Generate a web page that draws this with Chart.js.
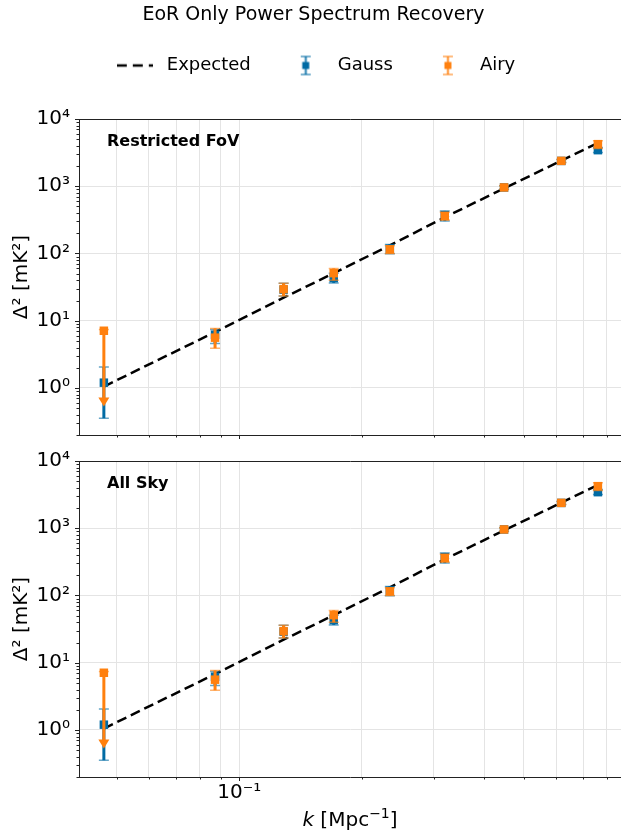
<!DOCTYPE html>
<html>
<head>
<meta charset="utf-8">
<title>EoR Only Power Spectrum Recovery</title>
<script src="https://cdn.jsdelivr.net/npm/chart.js@4.4.1/dist/chart.umd.min.js"></script>
<style>
    html, body { margin: 0; padding: 0; background: #fff; }
    #wrap { position: relative; width: 621px; height: 833px; overflow: hidden; font-family: 'DejaVu Sans', sans-serif; }
    #topBox { position: absolute; left: 0; top: 0; width: 621px; height: 445px; }
    #botBox { position: absolute; left: 0; top: 445px; width: 621px; height: 388px; }
    #xTitle { position: absolute; left: 350px; top: 807px; transform: translateX(-50%); font-size: 20px; line-height: 24px; white-space: nowrap; color: #000; }
    #xTitle sup { font-size: 14px; line-height: 0; }
</style>
</head>
<body>
<div id="wrap">
    <div id="topBox"><canvas id="topChart"></canvas></div>
    <div id="botBox"><canvas id="botChart"></canvas></div>
    <div id="xTitle"><i>k</i> [Mpc<sup>−1</sup>]</div>
</div>
<script>
// wavenumbers of the bins
const kValues = [0.0465, 0.0872, 0.1285, 0.1706, 0.2343, 0.3197, 0.447, 0.618, 0.760];
const expectedValues = [1.05, 6.8, 22, 51, 132, 345, 930, 2400, 4400];

const gaussValues = [1.2, 6.2, 29, 43, 118, 372, 960, 2380, 3440];
const gaussLow = [0.355, 4.6, 23.3, 36.5, 99, 303, 905, 2260, 3170];
const gaussHigh = [2.05, 7.4, 36, 51, 136, 430, 1020, 2500, 3750];

const airyValues = [7.1, 5.6, 29.5, 51, 115, 360, 960, 2385, 4225];
const airyLow = [0.63, 3.9, 23.3, 40, 100, 316, 905, 2260, 3650];
const airyHigh = [7.4, 7.7, 36, 60, 130, 410, 1020, 2500, 4730];
const airyArrow = [true, false, false, false, false, false, false, false, false];

const yMajorTicks = [1, 10, 100, 1000, 10000];
const yTickLabels = ['10⁰', '10¹', '10²', '10³', '10⁴'];
const xMajorTicks = [0.1];
const xTickLabels = ['10⁻¹'];

const xMin = 0.0404, xMax = 0.866;
const yMin = 0.2, yMax = 10000;

const gaussColor = '#006BA4';
const airyColor = '#FF800E';
const spineColor = '#222';
const gridColor = '#e4e4e4';

Chart.defaults.font.family = "'DejaVu Sans', sans-serif";
Chart.defaults.color = '#000';

// log ticks 1..9 x 10^n inside [min, max]
function logTicks(min, max, majors) {
    const ticks = [];
    for (let e = Math.floor(Math.log10(min)); e <= Math.ceil(Math.log10(max)); e++) {
        for (let m = 1; m <= 9; m++) {
            const v = parseFloat((m * Math.pow(10, e)).toPrecision(6));
            if (v >= min * 0.999 && v <= max * 1.001) {
                ticks.push({ value: v, major: majors.includes(v) });
            }
        }
    }
    return ticks;
}

function toPoints(values) {
    return kValues.map((k, i) => ({ x: k, y: values[i] }));
}

function drawErrorBar(ctx, px, yLo, yHi, color, arrow) {
    ctx.strokeStyle = color;
    ctx.fillStyle = color;
    ctx.globalAlpha = 1;
    ctx.lineWidth = 3;
    ctx.beginPath();
    ctx.moveTo(px, yLo);
    ctx.lineTo(px, yHi);
    ctx.stroke();
    ctx.globalAlpha = 0.6;
    ctx.lineWidth = 1.5;
    ctx.beginPath();
    ctx.moveTo(px - 5, yHi);
    ctx.lineTo(px + 5, yHi);
    if (!arrow) {
        ctx.moveTo(px - 5, yLo);
        ctx.lineTo(px + 5, yLo);
    }
    ctx.stroke();
    if (arrow) {
        ctx.globalAlpha = 1;
        ctx.beginPath();
        ctx.moveTo(px - 5.5, yLo - 4);
        ctx.lineTo(px + 5.5, yLo - 4);
        ctx.lineTo(px, yLo + 5);
        ctx.closePath();
        ctx.fill();
    }
}

// error bars are drawn just before the markers of their own series
const errorBars = {
    id: 'errorBars',
    beforeDatasetDraw(chart, args) {
        const ds = chart.data.datasets[args.index];
        if (!ds.errLow) return;
        const xs = chart.scales.x, ys = chart.scales.y;
        const ctx = chart.ctx;
        ctx.save();
        ds.data.forEach((p, i) => {
            const px = xs.getPixelForValue(p.x);
            const arrow = ds.errArrow ? ds.errArrow[i] : false;
            drawErrorBar(ctx, px, ys.getPixelForValue(ds.errLow[i]), ys.getPixelForValue(ds.errHigh[i]), ds.errColor, arrow);
        });
        ctx.restore();
    }
};

// major / minor tick marks like matplotlib
const tickMarks = {
    id: 'tickMarks',
    afterDraw(chart) {
        const ctx = chart.ctx;
        const a = chart.chartArea;
        const xs = chart.scales.x, ys = chart.scales.y;
        ctx.save();
        ctx.strokeStyle = spineColor;
        ctx.lineWidth = 1;
        ctx.beginPath();
        xs.ticks.forEach(t => {
            const px = Math.round(xs.getPixelForValue(t.value)) + 0.5;
            ctx.moveTo(px, a.bottom);
            ctx.lineTo(px, a.bottom + (t.major ? 4 : 2.5));
        });
        ys.ticks.forEach(t => {
            const py = Math.round(ys.getPixelForValue(t.value)) + 0.5;
            ctx.moveTo(a.left, py);
            ctx.lineTo(a.left - (t.major ? 4 : 2.5), py);
        });
        ctx.stroke();
        ctx.restore();
    }
};

const panelLabel = {
    id: 'panelLabel',
    afterDraw(chart, args, opts) {
        const ctx = chart.ctx;
        const a = chart.chartArea;
        ctx.save();
        ctx.font = "bold 16px 'DejaVu Sans', sans-serif";
        ctx.fillStyle = '#000';
        ctx.textBaseline = 'middle';
        ctx.fillText(opts.text, a.left + 28, a.top + 23);
        ctx.restore();
    }
};

function errorIcon(color) {
    const c = document.createElement('canvas');
    c.width = 12;
    c.height = 22;
    const ctx = c.getContext('2d');
    ctx.strokeStyle = color;
    ctx.globalAlpha = 0.7;
    ctx.lineWidth = 2.5;
    ctx.beginPath();
    ctx.moveTo(6, 2);
    ctx.lineTo(6, 20);
    ctx.stroke();
    ctx.lineWidth = 1.5;
    ctx.beginPath();
    ctx.moveTo(1, 2); ctx.lineTo(11, 2);
    ctx.moveTo(1, 20); ctx.lineTo(11, 20);
    ctx.stroke();
    ctx.globalAlpha = 1;
    ctx.fillStyle = color;
    ctx.fillRect(2.5, 7.5, 7, 7);
    return c;
}

function dashIcon() {
    const c = document.createElement('canvas');
    c.width = 36;
    c.height = 6;
    const ctx = c.getContext('2d');
    ctx.strokeStyle = '#000';
    ctx.lineWidth = 2.5;
    ctx.setLineDash([10, 6]);
    ctx.beginPath();
    ctx.moveTo(0, 3);
    ctx.lineTo(36, 3);
    ctx.stroke();
    return c;
}

function makeDatasets() {
    return [
        {
            label: 'Expected',
            data: toPoints(expectedValues),
            showLine: true,
            borderColor: '#000',
            borderWidth: 2.5,
            borderDash: [10, 5],
            pointRadius: 0,
            order: 2,
            legendIcon: dashIcon()
        },
        {
            label: 'Gauss',
            data: toPoints(gaussValues),
            pointStyle: 'rect',
            pointRadius: 6,
            pointBorderWidth: 0,
            pointBackgroundColor: gaussColor,
            errLow: gaussLow,
            errHigh: gaussHigh,
            errColor: gaussColor,
            order: 1,
            legendIcon: errorIcon(gaussColor)
        },
        {
            label: 'Airy',
            data: toPoints(airyValues),
            pointStyle: 'rect',
            pointRadius: 6,
            pointBorderWidth: 0,
            pointBackgroundColor: airyColor,
            errLow: airyLow,
            errHigh: airyHigh,
            errArrow: airyArrow,
            errColor: airyColor,
            order: 0,
            legendIcon: errorIcon(airyColor)
        }
    ];
}

function makePanel(canvasId, label, isBottom) {
    const topGap = isBottom ? 16 : 34.5;
    return new Chart(document.getElementById(canvasId), {
        type: 'scatter',
        data: { datasets: makeDatasets() },
        plugins: [errorBars, tickMarks, panelLabel],
        options: {
            responsive: true,
            maintainAspectRatio: false,
            animation: false,
            events: [],
            layout: { padding: { left: 6, top: 0, right: 0, bottom: 0 }, autoPadding: false },
            scales: {
                x: {
                    type: 'logarithmic',
                    position: 'bottom',
                    min: xMin,
                    max: xMax,
                    afterBuildTicks: s => { s.ticks = logTicks(xMin, xMax, xMajorTicks); },
                    ticks: {
                        display: isBottom,
                        autoSkip: false,
                        maxRotation: 0,
                        padding: 4,
                        font: { size: 20 },
                        color: '#000',
                        callback: v => {
                            const i = xMajorTicks.indexOf(v);
                            return i >= 0 ? xTickLabels[i] : '';
                        }
                    },
                    grid: { color: gridColor, lineWidth: 1, drawTicks: false },
                    border: { color: spineColor, width: 1 },
                    afterFit: s => { s.height = isBottom ? 56 : 10; }
                },
                xTop: {
                    axis: 'x',
                    type: 'linear',
                    position: 'top',
                    ticks: { display: false },
                    grid: { display: false, drawTicks: false },
                    border: { color: spineColor, width: 1 },
                    afterFit: s => { s.height = topGap; }
                },
                y: {
                    type: 'logarithmic',
                    min: yMin,
                    max: yMax,
                    afterBuildTicks: s => { s.ticks = logTicks(yMin, yMax, yMajorTicks); },
                    ticks: {
                        autoSkip: false,
                        padding: 0,
                        font: { size: 20, lineHeight: 1 },
                        color: '#000',
                        callback: v => {
                            const i = yMajorTicks.indexOf(v);
                            return i >= 0 ? yTickLabels[i] : '';
                        }
                    },
                    grid: {
                        color: c => (c.tick && c.tick.major) ? gridColor : 'rgba(0,0,0,0)',
                        lineWidth: 1,
                        drawTicks: true,
                        tickLength: 9,
                        tickColor: 'rgba(0,0,0,0)'
                    },
                    border: { color: spineColor, width: 1 },
                    title: {
                        display: true,
                        text: 'Δ² [mK²]',
                        font: { size: 20 },
                        color: '#000',
                        padding: { top: 4, bottom: 0 }
                    },
                    afterFit: s => { s.width = 73; }
                }
            },
            plugins: {
                panelLabel: { text: label },
                tooltip: { enabled: false },
                title: {
                    display: !isBottom,
                    text: 'EoR Only Power Spectrum Recovery',
                    font: { size: 19, weight: 'normal', lineHeight: 1.0 },
                    color: '#000',
                    padding: { top: 5.5, bottom: 0 }
                },
                legend: {
                    display: !isBottom,
                    position: 'top',
                    align: 'center',
                    labels: {
                        usePointStyle: true,
                        pointStyleWidth: 46,
                        padding: 32,
                        font: { size: 18 },
                        color: '#000',
                        generateLabels: chart => chart.data.datasets.map((ds, i) => ({
                            text: ds.label,
                            pointStyle: ds.legendIcon,
                            datasetIndex: i,
                            hidden: false,
                            lineWidth: 0,
                            fillStyle: 'rgba(0,0,0,0)',
                            strokeStyle: 'rgba(0,0,0,0)',
                            fontColor: '#000'
                        }))
                    }
                }
            }
        }
    });
}

makePanel('topChart', 'Restricted FoV', false);
makePanel('botChart', 'All Sky', true);
</script>
</body>
</html>
